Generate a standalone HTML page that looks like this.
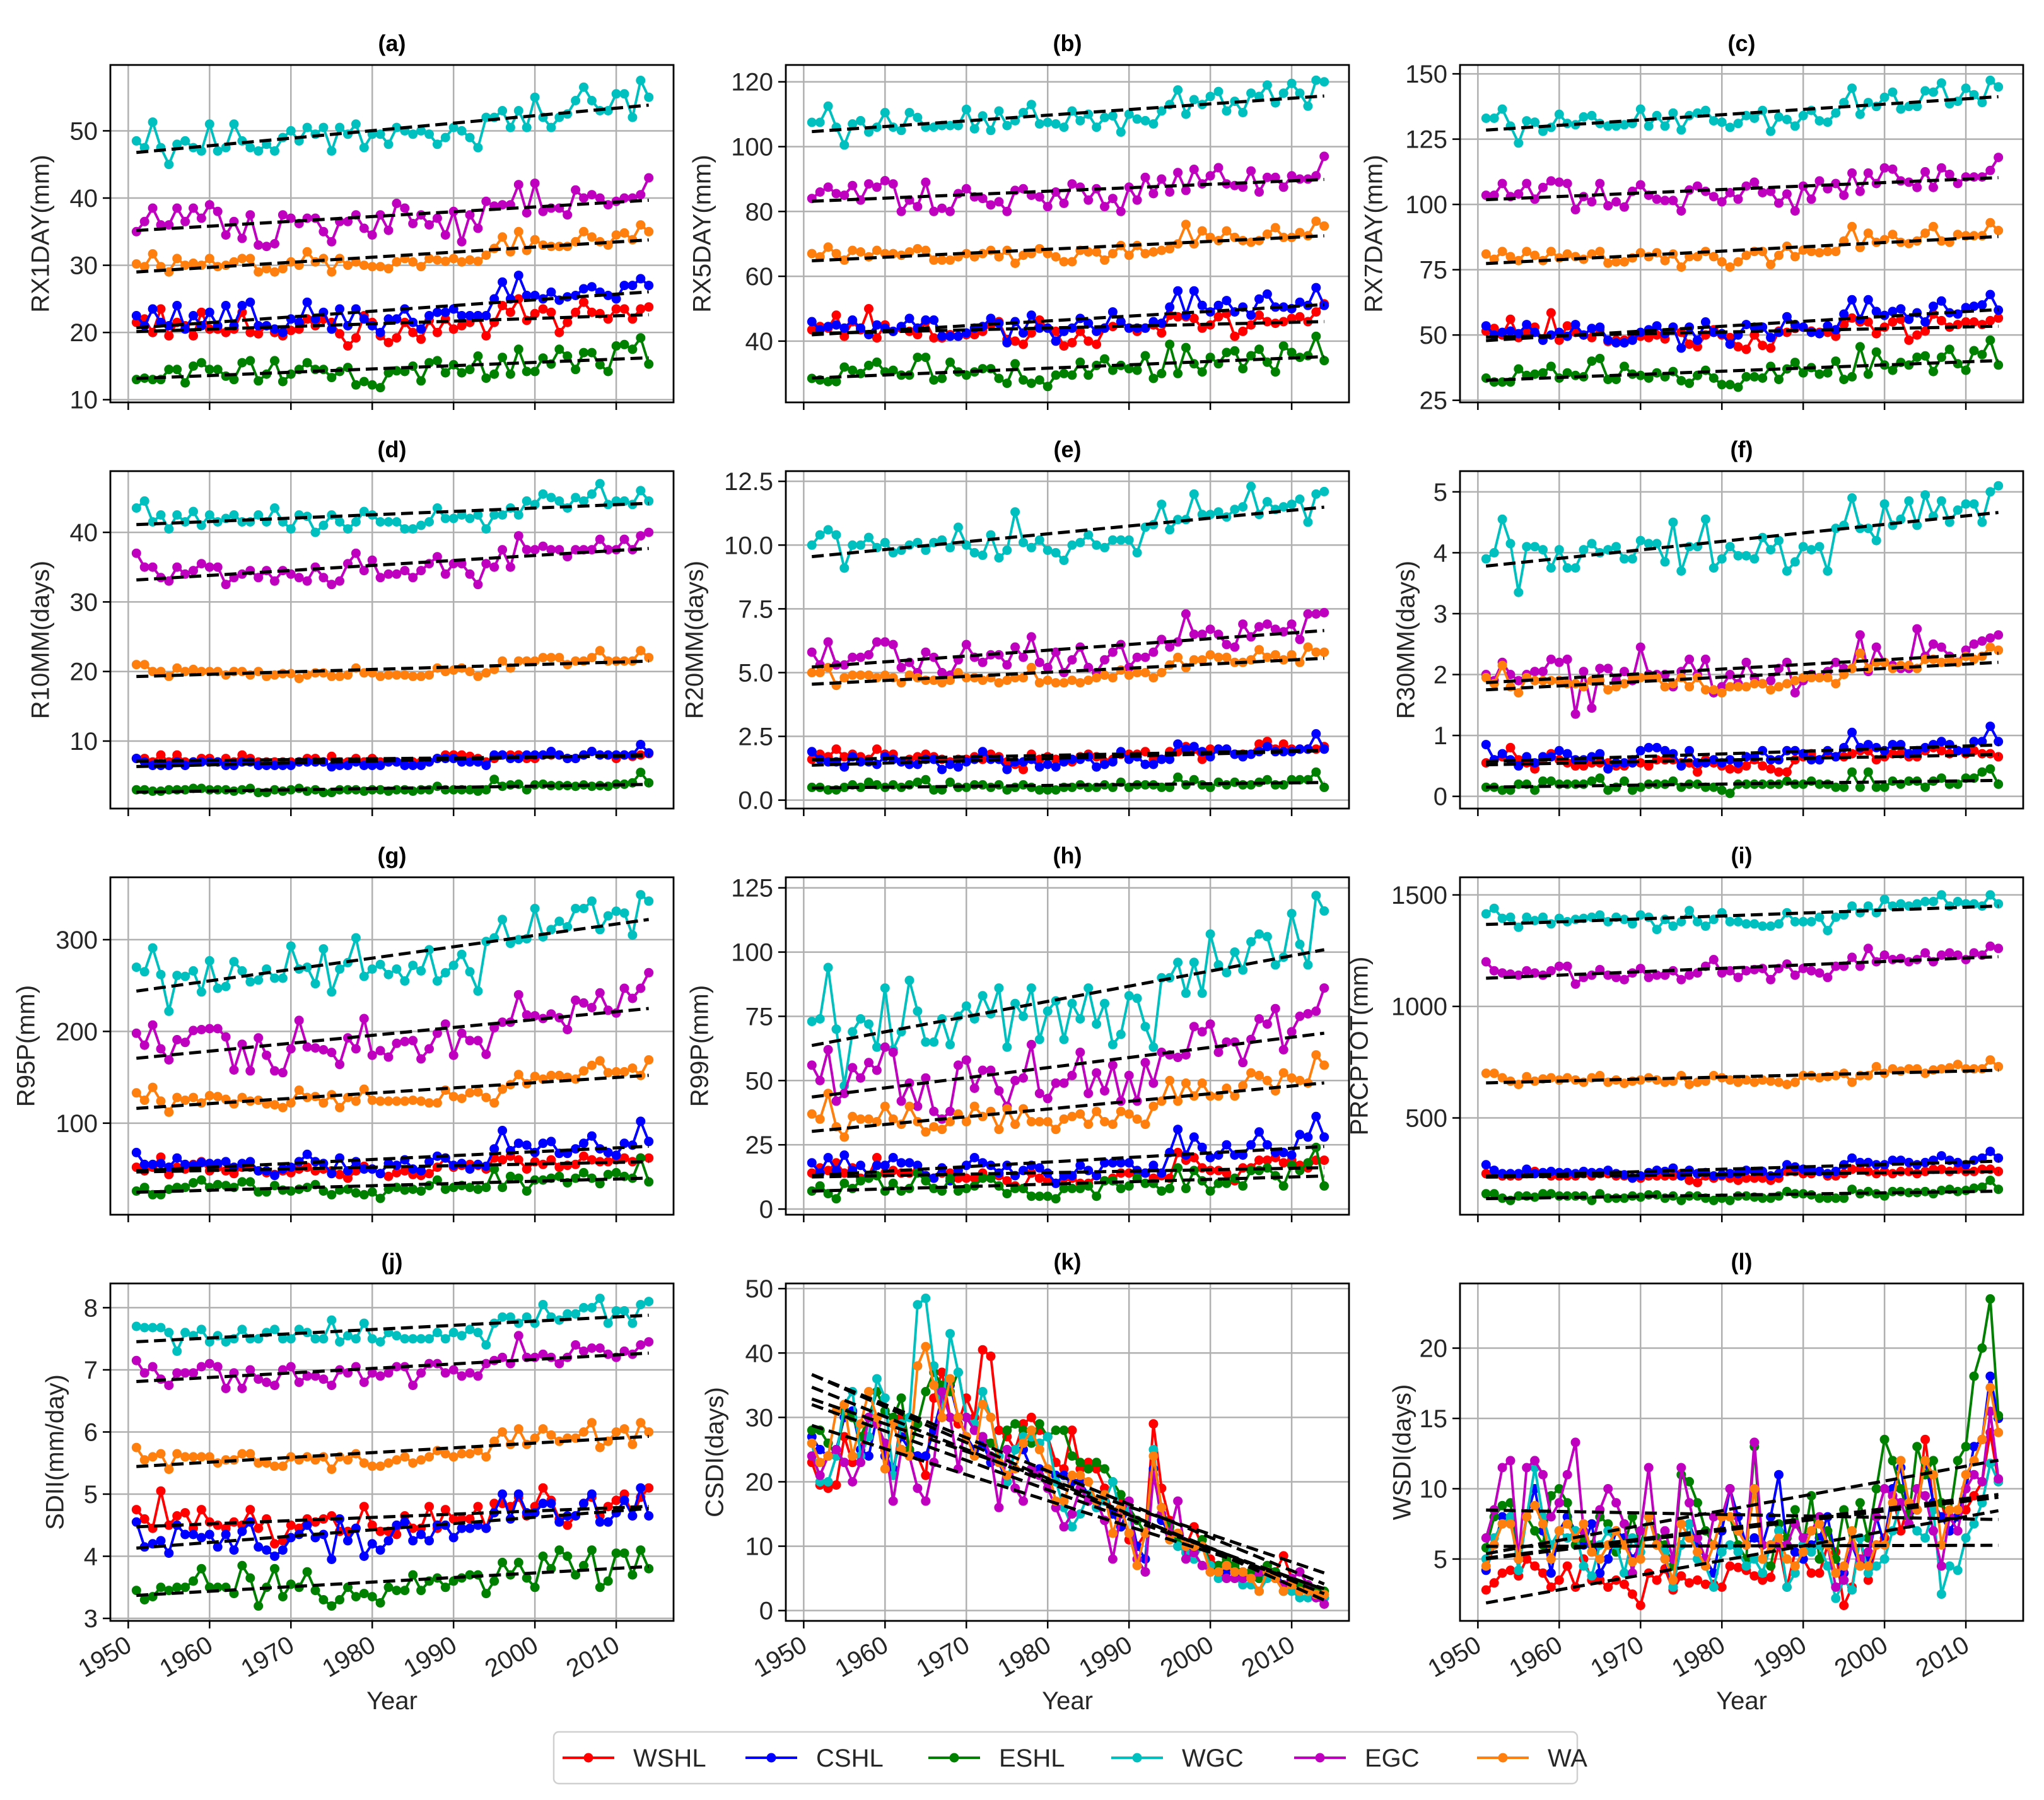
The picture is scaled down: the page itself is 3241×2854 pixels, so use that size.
<!DOCTYPE html>
<html><head><meta charset="utf-8"><title>Climate extreme indices</title>
<style>
html,body{margin:0;padding:0;background:#fff;}
svg{display:block;font-family:"Liberation Sans","DejaVu Sans",sans-serif;}
</style></head>
<body>
<svg id="fig" width="3241" height="2854" viewBox="0 0 3241 2854" xmlns="http://www.w3.org/2000/svg"></svg>
<script>
const years=[];for(let y=1951;y<=2014;y++)years.push(y);
const seriesNames=['WSHL','CSHL','ESHL','WGC','EGC','WA'];
const seriesColors={WSHL:'#ff0000',CSHL:'#0000ff',ESHL:'#008000',WGC:'#00bfbf',EGC:'#bf00bf',WA:'#ff7f0e'};
const xTickYears=[1950,1960,1970,1980,1990,2000,2010];

// (a) RX1DAY
const a_WGC=[48.5,47.5,51.3,47.5,45,48,48.5,47.5,47,51,47,47.5,51,48.5,47.5,47,48,47,49,50,48.5,50.5,49.5,50.5,47,50.5,49.5,51,47.5,49.5,49.5,48,50.5,50,49.5,50,49.5,48,49,50.5,50,49,47.5,52,52,53,50.5,53,50.5,55,52,50.5,52,52.5,54.5,56.5,54.5,53,53,55.5,55.5,52,57.5,55];
const a_EGC=[35,36.5,38.5,36,36,38.5,36.5,38.5,37,39,38,34.5,36.5,34,37.5,33,32.8,33.2,37.5,37,36.2,37,37,35,33.5,36.5,36.5,37.5,35.5,34.5,37.5,35.2,39.2,38.5,36.2,37.5,36,37,34.5,38,33.5,37.5,35.5,39.5,38.8,39,39,42,37.8,42.2,38,38.5,38.5,37.5,41.2,40,40.5,40,39,39.5,40,40,40.5,43];
const a_WA=[30.2,29.8,31.7,29.8,29,31,30,30.3,30,31,29.8,30,30.5,31,31,29,29.5,29,29.5,30.5,30,32,30.5,31,29,31,30,30.5,30,29.8,29.8,29.5,30.5,31,30.5,29.8,31,30.8,30.6,31,30.5,30.8,30.6,31.5,32.5,34.2,32,35,32.2,33.8,33,32.8,32.8,32.8,33.5,35,34.2,33.5,33,34.5,34.8,33.8,36,35];
const a_CSHL=[22.5,21,23.5,21.5,21,24,20.5,22.5,21,23,21,24,21,24,24.5,21,21,20.5,20,22,21.5,24.5,22,23,20.5,23.5,21,23.5,22,21,20,22,22,23.5,21.5,20.5,22.5,23,23,23.5,22.5,22.5,22.5,22.5,25,27.5,25,28.5,25.5,25.5,25,26,24.8,25.3,25.5,26.5,26.8,26,25.5,25,27,27,28,27];
const a_WSHL=[21.5,22,20,23.5,19.5,21.5,21,19.5,23,20.5,20.5,20,20.5,23,20,19.8,21,20,19.5,20.3,20.5,22,21,22,21.5,19.8,18,19.2,22.5,21.5,19.5,18.5,19.2,21.5,20,19,21.8,20,22,20.5,21,21.5,22.5,19.5,21.5,24,23,25,21.8,22.8,23.5,23,20,21.5,23,24.5,23,22.8,22,23.5,23.5,22,23.5,23.8];
const a_ESHL=[13,13.2,13,13,14.5,14.5,12.5,15,15.5,14.5,14.5,13.5,13,15.5,15.8,12.8,13.8,15.8,12.7,13.8,14.5,15.5,14.5,14.5,13.3,14.2,14.8,12.2,12.7,12.2,11.8,14,14.3,14.2,15,12.8,15.5,15.8,14,15.2,14,14.5,16.5,13.2,13.8,16.3,13.8,17.5,14.2,14.2,16.2,15.3,17.5,16.5,14.5,17,17,15.2,14.2,18,18.2,17.5,19.2,15.3];
const a_ticks=[10,20,30,40,50];

// (b) RX5DAY
const b_WGC=[107.5,107.5,112.5,106,100.5,107,108,104.5,106,110.5,106,105,110.5,109,106,106,106.5,106.5,106.5,111.5,105.5,109.5,105,111,106.5,108,110.5,113,107,107.5,107,106,111,108,110,106,109,109.5,104.5,110,108.5,108,107,111,113,117.5,110,114.5,113,115.5,117,111,114,110.5,116.5,115.5,119,113.5,116.5,119.5,116.5,112.5,120.5,120];
const b_EGC=[84,86,87.5,85.5,85,88,83.5,88.5,87.5,89.5,88.5,80,83.5,81.5,89,80,81,80,85.5,87,84.5,84,82,83,80,86.5,87,85,84.5,81.5,86,82.5,88.5,87.5,83.5,87,81.5,84,80,87.5,83.5,90.5,85.5,90,86,92,86.5,93,88.5,91,93.5,88.5,88,87.5,92.5,86,90.5,90.5,87.5,91,90,90,91,97];
const b_WA=[67,66,69,67,65,68,67.5,66,68,67,67,66.5,67.5,68.5,68,65,65,65,66,67,66,67,68,66,68,64,66.5,67,68.5,67,66,64.5,64.5,68,67.5,67.5,65,67,69.5,66.5,69.5,67,67.5,68,68.5,70,76,70,74,72,71,74,72,71,70.5,71,73,75,72,72,73.5,72.5,77,75.5];
const b_CSHL=[46,43.5,44.5,45,44,46.5,44,42,45,44,43,44.5,47,44,46.5,46.5,41.5,41.5,41.5,42.5,44,44.5,47,45.5,39.5,46,42.5,48,44,44,40,43,44,47,45.5,43,44,49,46,44,44,44,46,45.5,50.5,55.5,48,55.5,51,49,51,52.5,49,50.5,48,53,54.5,50.5,50.5,50,52,51,56.5,51];
const b_WSHL=[43.5,44.5,44,48,41.5,46,43.5,50,41,45,43,44,43,42,46,41,41,42,41.5,42,42,43,45,46,40.5,40,39,42.5,46.5,44,43,38.5,39.5,43,40,39,44,44.5,46,44,43,44,45,42.5,48,47.5,47.5,47,44,45,47.5,48.5,41.5,43,45,48,46,45.5,46,47,47.5,46,49,51.5];
const b_ESHL=[28.5,28,27.5,27.5,32,31,30,32.5,33.5,30.5,31,29.5,29.5,35,35,28,28.5,33.5,30.5,29.5,30.5,31.5,31.5,28.5,27,33,28,27,28,26,29.5,30,29.5,33.5,29.5,32.5,34.5,31,32.5,31.5,31,35.5,28.5,30,39,30,38,33,30.5,35,33,36.5,37,31.5,35.5,37.5,33.5,30.5,38.5,36.5,35,35.5,41.5,34];
const b_ticks=[40,60,80,100,120];

// (c) RX7DAY
const c_WGC=[133,133,136.5,130,123.5,132,131.5,128,129.5,134.5,131,130.5,133.5,134,131,130,130,130.5,131,136.5,130,134,130,135,128.5,134,135,136,132,131.5,129.5,131,134,133,136,128,133.5,132.5,130,134,136,132,131.5,135,139,144.5,134.5,139,137.5,141,143,136.5,137.5,137.5,143.5,143,146.5,138.5,139.5,144.5,142,139,147.5,145];
const c_EGC=[103.5,103.5,108,103,104,108,102,106.5,109,108.5,108,98,103,101,108,99.5,101,99,105,107.5,103.5,102,101.5,101.5,97.5,105.5,107,105,103,101,104.5,102,107,108.5,104.5,105,100.5,104,97.5,107,102,109,106,108,103.5,112,105,112,108,114,113.5,109,108.5,106.5,112.5,106.5,114,111.5,108,110.5,110.5,110.5,113,118];
const c_WA=[81,79,82,80,78.5,82,80.5,78.5,82,79.5,81,80,79,81,82,77.5,78,78,79.5,81.5,80,81.5,78.5,81,76,80,80,82,80,78,76,78,80.5,82,82,77,80.5,84,80,82.5,82,81.5,82,82,86,91.5,83.5,89,85.5,86.5,88.5,85.5,85,86,89,91.5,86,85.5,88.5,88,88,88,93,90];
const c_CSHL=[53.5,50,51,51.5,50.5,54,51,48,50,51,49.5,54,50,52.5,53,48,47,47,48,51,52,53.5,50.5,53,45,53,48,55,51,50.5,46.5,50,54,53,53,49,51,57,54,53,51,50.5,53.5,52,58,63.5,56,63.5,59,57.5,59,60,56,58.5,55,61,63,58.5,58,60.5,61,61.5,65.5,59.5];
const c_WSHL=[51.5,52.5,50,56,49,51,53,48,58.5,48,53.5,51,50,49,52,47.5,48,48,49,49.5,49,50,48.5,53,51,46.5,45.5,50,52,50,49,45.5,44.5,50,46,45,51.5,51,52.5,53,51.5,51,51,49.5,54,56.5,55,55,50.5,53,55,56,48,50,51.5,58,55.5,53,54,55,55,54,55.5,56.5];
const c_ESHL=[33.5,32,32,32,37,34.5,35,35.5,38,33.5,35.5,34.5,34,40,41,33,33,38,35,34.5,33.5,35.5,34,36,32.5,31.5,34.5,36.5,33.5,31,31,30,34,34,33.5,38,33,37,39.5,35.5,37.5,35,35.5,40,33,34,45.5,35,43.5,38.5,36.5,39.5,38.5,41.5,42,36,41.5,44.5,39,36.5,44,42.5,48,38.5];
const c_ticks=[25,50,75,100,125,150];

// (d) R10MM
const d_WGC=[43.5,44.5,41.5,42.5,40.5,42.5,41.5,43,41,42.5,41.5,42,42.5,41.5,41.5,42.5,41.5,43.5,41.5,40.5,42.5,42.3,40,41,42.5,41.5,40.5,41.5,43,42.5,41.5,41.5,41.5,40.5,40.5,41,41.5,43.5,42,42,42.5,42,42.5,40.5,42.5,42.5,43.5,42.5,44.5,44,45.5,45,44.5,43.5,45,44.5,45.5,47,44,44.5,44.5,44,46,44.5];
const d_EGC=[37,35,35,33.5,33,35,34,34.5,35.5,35,35,32.5,33.5,34,34.5,33.5,34.5,33,34.5,34,33.5,33,35,33.5,32.5,33,35.5,37,34.5,36,33.5,34,34,34.5,33.5,34.5,35.5,36.5,34,35.5,35.5,34,32.5,35.5,35,37.5,35,39.5,37.5,37.5,38,37.5,37.5,36.5,37.5,37.5,37.5,39,37.5,37.5,39,37.5,39.5,40];
const d_WA=[21,21,20,20,19.3,20.5,20,20.3,20,20,20,19.5,20,20,19.5,20,19.3,19.5,19.7,19.7,19,19.5,19.8,19.8,19.3,19.3,19.5,20.5,19.8,19.8,19.3,19.5,19.5,19.5,19.3,19.3,19.5,20.5,20,20.2,20.5,20,19.3,19.8,20.3,21.5,20.5,21.5,21.5,21.5,22,22,22,21,21.5,21.5,22,23,21.5,21.5,21.5,21.5,23,22];
const d_CSHL=[7.5,7,6.5,6.5,6.5,7,6.5,7,7,7,7,6.5,6.5,7,7,6.5,6.5,6.5,6.5,6.5,7,7,7,7,6.3,6.5,6.5,7,6.5,6.5,6.5,7,7,6.5,6.5,6.5,7,7.5,7.5,7.5,7,7,7,6.5,8,8,7.5,7.5,8,8,8,8.5,8,7.5,7.5,8,8.5,8,8,8,8,8,9.5,8.3];
const d_WSHL=[7.5,7.5,7,8,7,8,7,7,7.5,7.5,7,7.5,7,8,7.5,7,7,7,7,7,7,7.5,7.5,7,7.8,7,7,7.5,7,7.5,7,7,7,7,7,7,7,7.5,8,8,8,7.8,7.5,7,7.5,8,8,8,7.5,7.5,8,8,8,7.5,7.5,8,8.5,8,8,7.5,8,7.8,8,8.2];
const d_ESHL=[3,3,2.8,2.8,3,3,3,3.2,3.2,3,3,3,2.8,3,3.2,2.6,2.6,3,2.8,3,3.2,2.8,3,2.6,2.6,3,3,3,2.8,3,3,2.8,3,3,2.8,3,3,3.5,3,3,3,3,2.8,3,4.5,3.5,3.7,3.8,3,3.7,3.8,3.6,3.6,3.6,3.5,3.7,3.5,3.6,3.5,3.8,3.8,4,5.5,4];
const d_ticks=[10,20,30,40];

// (e) R20MM
const e_WGC=[10,10.4,10.6,10.4,9.1,10,10,10.3,9.9,10.1,9.7,9.8,10,10.1,9.8,10.1,10.2,9.9,10.7,10,9.7,9.6,10.4,9.5,9.8,11.3,10.1,9.9,10.2,9.8,9.7,9.4,10,10.1,10.4,10,9.9,10.2,10.2,10.2,9.7,10.7,10.8,11.6,10.6,11,11,12,11.2,11.2,11.3,11.1,11.4,11.5,12.3,11.2,11.7,11.4,11.5,11.6,11.8,10.9,12,12.1];
const e_EGC=[5.8,5.3,6.2,5.3,5.3,5.6,5.6,5.7,6.2,6.2,6.1,5.2,5.4,5,5.8,5.6,5,4.9,5.5,6.1,5.6,5.4,5.7,5.7,5.3,6,5.6,6.4,5.4,5.2,5.8,5,5.5,6,5.2,5,5.5,5.8,6.1,5.2,5.6,5.6,5.8,6.3,6,6.2,7.3,6.5,6.5,6.7,6.5,6.1,6,6.9,6.4,6.8,6.9,6.7,6.6,6.9,6.3,7.3,7.3,7.35];
const e_WA=[5,5,5.2,4.5,4.8,4.9,4.9,4.9,4.8,4.9,4.8,4.6,4.9,4.8,4.7,4.7,4.6,4.7,5,4.8,4.8,4.7,4.8,4.6,4.7,4.8,4.8,5.2,4.6,4.7,4.6,4.6,4.7,4.6,4.7,4.8,4.9,4.8,5.1,4.9,5,5,4.8,5,5.3,5.6,5.2,5.5,5.5,5.7,5.6,5.6,5.4,5.4,5.5,5.9,5.6,5.7,5.5,5.7,5.4,6,5.8,5.8];
const e_CSHL=[1.9,1.6,1.5,1.5,1.3,1.7,1.5,1.5,1.4,1.7,1.6,1.5,1.4,1.4,1.6,1.6,1.2,1.4,1.3,1.5,1.6,1.9,1.6,1.6,1.2,1.5,1.5,1.6,1.3,1.4,1.3,1.5,1.6,1.6,1.7,1.3,1.4,1.5,1.9,1.6,1.7,1.4,1.4,1.6,1.6,2.2,2,2.1,1.9,1.7,2,2,1.8,1.7,1.8,1.9,2.1,1.9,1.9,1.9,2,2,2.6,2];
const e_WSHL=[1.6,1.8,1.7,2,1.7,1.8,1.7,1.6,2,1.8,1.8,1.5,1.6,1.7,1.8,1.7,1.6,1.5,1.6,1.6,1.7,1.6,1.8,1.7,1.5,1.4,1.2,1.8,1.6,1.7,1.6,1.5,1.5,1.7,1.8,1.7,1.5,1.6,1.8,1.8,1.8,1.9,1.6,1.6,1.9,1.9,2.1,2,1.6,2,2,2,1.8,1.8,1.8,2.2,2.3,2,2.2,2,2,2,2,2.1];
const e_ESHL=[0.5,0.5,0.4,0.4,0.5,0.6,0.5,0.7,0.6,0.5,0.6,0.5,0.6,0.7,0.8,0.4,0.4,0.7,0.5,0.5,0.6,0.6,0.5,0.6,0.4,0.5,0.6,0.5,0.4,0.4,0.4,0.5,0.5,0.6,0.5,0.5,0.6,0.5,0.7,0.5,0.6,0.6,0.6,0.5,0.5,0.9,0.6,0.8,0.6,0.5,0.7,0.6,0.7,0.6,0.6,0.7,0.8,0.6,0.6,0.8,0.8,0.8,1.1,0.5];
const e_ticks=[0,2.5,5,7.5,10,12.5];

// (f) R30MM
const f_WGC=[3.9,4,4.55,4.15,3.35,4.1,4.1,4.05,3.75,4.05,3.75,3.75,4.05,4.15,4,4.05,4.1,3.9,3.9,4.2,4.15,4.15,3.85,4.5,3.7,4.1,4.1,4.55,3.75,3.9,4.1,3.95,3.95,3.9,4.25,4.05,4.2,3.7,3.85,4.1,4.05,4.1,3.7,4.4,4.45,4.9,4.4,4.4,4.2,4.8,4.45,4.55,4.85,4.45,4.95,4.6,4.85,4.5,4.7,4.8,4.8,4.5,5,5.1];
const f_EGC=[2,1.9,2.2,2,1.9,2,2.05,2.05,2.25,2.2,2.25,1.35,2.05,1.45,2.1,2.1,1.9,2.05,1.9,2.45,2,2,2,1.8,2.05,2.25,2,2.25,1.7,1.8,2,1.85,2.2,1.95,1.85,1.9,2.1,2.2,1.7,1.9,2,1.95,2.05,2.2,2.1,2.1,2.65,2.05,2.45,2.2,2.15,2.1,2.1,2.75,2.3,2.5,2.45,2.3,2.2,2.4,2.5,2.55,2.6,2.65];
const f_WA=[1.95,1.85,2.15,1.8,1.7,1.95,1.9,1.9,1.9,1.9,1.85,1.85,1.8,1.9,1.9,1.75,1.8,1.85,1.95,1.95,1.95,1.95,1.8,1.85,1.95,1.8,1.95,1.75,1.75,1.7,1.8,1.8,1.8,1.85,1.85,1.75,1.8,1.85,1.9,1.95,1.95,1.95,1.95,1.85,2,2.1,2.35,2.1,2.2,2.2,2.1,2.15,2.15,2.1,2.25,2.25,2.2,2.25,2.2,2.3,2.25,2.3,2.45,2.4];
const f_CSHL=[0.85,0.6,0.7,0.6,0.5,0.65,0.55,0.65,0.65,0.75,0.7,0.6,0.6,0.65,0.7,0.45,0.55,0.55,0.55,0.75,0.8,0.8,0.75,0.7,0.5,0.75,0.55,0.55,0.6,0.55,0.6,0.55,0.65,0.65,0.75,0.6,0.6,0.75,0.75,0.7,0.6,0.6,0.75,0.65,0.8,1.05,0.8,0.85,0.8,0.75,0.85,0.85,0.7,0.75,0.8,0.85,0.9,0.85,0.75,0.75,0.9,0.9,1.15,0.9];
const f_WSHL=[0.55,0.6,0.65,0.8,0.6,0.55,0.45,0.6,0.7,0.6,0.55,0.5,0.5,0.55,0.55,0.55,0.5,0.5,0.6,0.55,0.5,0.6,0.6,0.6,0.55,0.55,0.4,0.6,0.55,0.5,0.45,0.45,0.5,0.6,0.5,0.45,0.4,0.4,0.6,0.65,0.7,0.6,0.7,0.65,0.65,0.7,0.75,0.75,0.6,0.65,0.7,0.7,0.65,0.65,0.75,0.8,0.75,0.7,0.75,0.7,0.75,0.7,0.7,0.65];
const f_ESHL=[0.15,0.15,0.1,0.1,0.2,0.2,0.1,0.25,0.25,0.2,0.2,0.2,0.2,0.25,0.3,0.1,0.15,0.25,0.1,0.15,0.2,0.2,0.2,0.25,0.15,0.2,0.2,0.15,0.15,0.1,0.05,0.2,0.2,0.2,0.2,0.2,0.2,0.25,0.2,0.2,0.25,0.2,0.2,0.15,0.15,0.4,0.15,0.4,0.15,0.15,0.25,0.2,0.25,0.25,0.15,0.25,0.3,0.2,0.2,0.3,0.3,0.4,0.45,0.2];
const f_ticks=[0,1,2,3,4,5];

// (g) R95P
const g_WGC=[270,265,291,262,222,261,260,266,243,277,247,249,276,266,254,256,268,258,258,293,268,270,252,290,243,268,275,302,260,268,273,262,268,255,272,266,289,255,264,272,284,265,244,298,302,322,296,300,301,334,303,311,320,314,334,334,342,311,326,331,329,305,349,342];
const g_EGC=[198,185,207,181,169,191,188,201,202,203,203,194,158,186,157,193,174,157,155,181,212,183,182,180,177,164,193,181,214,174,179,172,187,189,190,170,181,198,208,174,198,190,190,175,204,210,210,240,218,217,214,219,215,202,234,231,226,242,223,220,247,236,247,264];
const g_WA=[133,125,139,124,112,128,125,128,122,130,129,126,121,128,124,125,121,120,117,122,136,128,129,122,131,117,128,124,137,125,124,124,124,124,125,124,122,122,136,129,127,133,134,128,122,137,142,153,143,151,148,152,152,150,148,157,163,168,155,156,156,160,152,177];
g_WA.push(169); g_WA.splice(63,1);
const g_CSHL=[68,55,55,56,52,62,55,54,57,56,56,58,52,56,58,48,48,43,50,52,58,66,58,56,45,62,48,58,50,50,45,56,54,60,50,48,58,64,62,54,56,50,55,53,72,92,70,78,76,68,78,80,67,67,72,78,86,72,68,65,78,76,102,80];
const g_WSHL=[52,48,52,63,44,52,50,55,58,48,52,48,45,52,52,48,46,44,48,46,50,52,48,50,48,44,40,48,53,50,45,42,46,48,44,43,45,52,62,52,54,55,54,50,62,60,64,60,50,58,55,60,52,54,55,64,60,58,58,60,62,58,62,62];
const g_ESHL=[26,30,22,22,28,30,30,35,38,30,33,32,30,36,36,25,25,32,27,26,28,30,33,26,22,27,28,24,22,25,18,28,30,27,28,26,32,38,28,30,32,30,28,30,50,30,42,40,26,38,38,40,42,35,40,46,40,34,44,46,42,40,62,36];
const g_ticks=[100,200,300];

// (h) R99P
const h_WGC=[73,74,94,70,48,69,74,72,63,86,62,69,89,77,65,65,74,64,75,79,74,83,76,86,63,80,75,86,66,77,81,66,80,74,86,72,80,64,68,83,82,71,63,90,90,96,84,96,84,107,95,92,100,93,104,107,106,95,98,115,103,95,122,116];
const h_EGC=[56,50,62,42,45,55,51,57,54,63,61,42,49,40,51,38,35,38,56,58,47,54,54,46,40,50,51,64,45,43,49,49,52,61,45,53,46,56,42,52,42,57,49,61,60,59,60,71,69,72,61,65,65,57,66,74,72,78,62,69,75,76,77,86];
const h_WA=[37,35,45,32,28,36,35,35,34,40,35,33,40,34,30,32,31,34,37,34,40,36,38,31,39,33,39,34,34,34,31,35,36,37,33,38,34,33,38,37,35,33,40,42,50,42,49,44,49,44,44,47,44,48,53,52,50,46,53,51,50,49,60,56];
const h_CSHL=[18,14,20,15,21,15,17,13,17,17,20,18,18,17,13,12,16,11,15,17,20,18,17,14,17,13,15,17,16,14,10,13,13,17,15,13,18,18,18,18,15,14,17,14,22,31,21,28,24,20,21,25,21,21,25,30,25,22,22,21,29,28,36,28];
const h_WSHL=[14,16,15,18,14,16,12,13,20,14,15,14,14,15,13,12,14,14,12,12,12,14,12,13,11,9,8,14,12,11,10,12,12,10,10,13,11,12,14,14,13,14,12,13,12,22,19,20,16,15,15,14,11,16,16,19,19,20,18,19,17,16,19,19];
const h_ESHL=[7,9,6,4,10,8,11,12,13,7,10,7,8,14,11,8,7,12,7,8,9,12,12,9,6,8,8,5,5,5,4,8,8,8,9,5,11,11,8,9,12,10,10,7,8,16,8,15,11,7,10,10,12,9,15,15,16,13,9,17,15,18,24,9];
const h_ticks=[0,25,50,75,100,125];

// (i) PRCPTOT
const i_WGC=[1415,1440,1395,1400,1355,1400,1385,1400,1370,1395,1380,1390,1395,1400,1410,1380,1400,1390,1370,1410,1400,1345,1390,1360,1380,1430,1380,1360,1390,1420,1380,1380,1370,1370,1360,1360,1370,1420,1380,1380,1380,1400,1340,1400,1410,1450,1420,1450,1420,1480,1450,1460,1450,1460,1470,1470,1500,1450,1470,1460,1460,1450,1500,1460];
const i_EGC=[1200,1160,1150,1145,1140,1160,1150,1140,1160,1180,1180,1100,1130,1140,1165,1140,1130,1120,1150,1170,1130,1140,1140,1160,1120,1140,1150,1180,1210,1150,1160,1130,1160,1165,1170,1120,1170,1190,1140,1170,1160,1150,1130,1180,1180,1220,1180,1260,1200,1230,1210,1215,1200,1210,1240,1200,1230,1240,1230,1210,1240,1230,1270,1260];
const i_WA=[700,700,680,665,650,685,665,675,680,670,680,670,660,680,690,660,670,655,665,670,680,670,660,665,690,650,660,665,690,680,670,660,670,660,670,665,660,650,660,690,690,680,685,690,700,660,690,690,730,700,720,710,720,720,700,715,720,725,740,720,720,720,760,730];
const i_CSHL=[290,265,250,250,250,270,250,255,260,255,255,250,260,255,255,265,250,245,230,240,255,265,260,275,240,265,250,255,240,245,250,250,265,260,260,240,250,290,280,270,265,260,250,260,290,320,300,300,290,290,310,310,300,290,300,310,330,310,300,290,310,320,350,320];
const i_WSHL=[250,250,240,240,240,250,260,250,240,240,240,240,250,240,250,250,240,240,230,230,240,240,240,240,250,220,210,240,230,240,230,220,230,230,230,220,230,260,260,250,250,260,240,240,250,270,270,260,250,260,250,260,260,250,260,270,270,260,270,260,260,270,270,260];
const i_ESHL=[160,160,140,130,150,150,145,160,160,150,150,150,150,130,160,140,140,140,150,145,155,155,140,150,130,150,150,140,130,140,130,150,150,145,140,140,150,170,160,160,155,140,140,140,140,180,160,170,160,150,170,170,165,165,170,160,175,180,170,175,185,190,220,180];
const i_ticks=[500,1000,1500];

// (j) SDII
const j_WGC=[7.7,7.68,7.68,7.68,7.6,7.3,7.6,7.55,7.65,7.45,7.55,7.45,7.5,7.65,7.5,7.5,7.6,7.65,7.5,7.5,7.65,7.6,7.5,7.5,7.8,7.45,7.55,7.5,7.75,7.5,7.45,7.6,7.55,7.5,7.5,7.5,7.5,7.6,7.5,7.6,7.55,7.65,7.6,7.4,7.75,7.85,7.85,7.75,7.85,7.75,8.05,7.85,7.8,7.9,7.9,8,8,8.15,7.75,7.95,7.95,7.75,8.05,8.1];
const j_EGC=[7.15,6.95,7.05,6.85,6.75,6.95,6.95,6.95,7.05,7.1,7.05,6.7,6.95,6.7,7,6.85,6.8,6.75,7,7.05,6.8,6.9,6.9,6.85,6.75,7,6.95,7.05,6.8,6.95,6.9,6.95,7.05,7.05,6.75,6.95,7.1,7.1,6.95,7,6.9,6.95,6.9,7.1,7.15,7.2,7.1,7.55,7.2,7.2,7.25,7.2,7.1,7.2,7.4,7.3,7.35,7.35,7.25,7.2,7.3,7.25,7.4,7.45];
const j_WA=[5.75,5.55,5.6,5.65,5.4,5.65,5.6,5.6,5.6,5.6,5.5,5.55,5.55,5.65,5.65,5.5,5.5,5.45,5.45,5.6,5.55,5.6,5.55,5.6,5.4,5.6,5.55,5.65,5.5,5.45,5.45,5.5,5.55,5.6,5.5,5.55,5.6,5.7,5.65,5.6,5.65,5.65,5.7,5.6,5.85,6,5.8,6.05,5.8,5.9,6.05,5.95,5.85,5.9,5.9,6,6.15,5.75,5.85,6,6.05,5.8,6.15,6];
const j_CSHL=[4.55,4.15,4.2,4.25,4.05,4.5,4.35,4.35,4.3,4.35,4.15,4.35,4.1,4.4,4.55,4.15,4.1,4,4.1,4.3,4.35,4.5,4.3,4.35,3.95,4.6,4.25,4.45,4,4.2,4.1,4.25,4.5,4.55,4.25,4.35,4.25,4.5,4.5,4.3,4.45,4.45,4.5,4.45,4.7,5,4.6,5,4.7,4.7,4.85,4.85,4.55,4.65,4.65,4.85,5,4.55,4.55,4.7,4.9,4.65,5.1,4.65];
const j_WSHL=[4.75,4.6,4.45,5.05,4.5,4.65,4.7,4.45,4.75,4.55,4.5,4.45,4.55,4.5,4.75,4.45,4.6,4.2,4.25,4.5,4.45,4.6,4.55,4.6,4.65,4.4,4.4,4.45,4.8,4.5,4.4,4.4,4.35,4.65,4.45,4.45,4.8,4.45,4.75,4.6,4.6,4.6,4.8,4.45,4.85,4.85,4.8,4.95,4.65,4.8,5.1,4.9,4.6,4.5,4.65,4.85,4.95,4.65,4.8,4.9,5,4.65,4.95,5.1];
const j_ESHL=[3.45,3.3,3.35,3.5,3.45,3.5,3.5,3.6,3.8,3.5,3.5,3.5,3.4,3.85,3.65,3.2,3.5,3.8,3.35,3.55,3.5,3.75,3.45,3.3,3.2,3.3,3.5,3.35,3.4,3.35,3.25,3.5,3.45,3.45,3.7,3.45,3.6,3.65,3.5,3.6,3.65,3.7,3.7,3.4,3.6,3.9,3.7,3.9,3.65,3.5,4,3.8,4.1,4,3.7,3.85,4.1,3.5,3.6,4.05,4.05,3.7,4.1,3.8];
const j_ticks=[3,4,5,6,7,8];

// (k) CSDI
const k_WSHL=[23,19.5,19,19.5,27,23,25,30,29,25,21,30,25,24,21,33,37,30,29,33,30,40.5,39.5,28,27,25,29,30,28,27,23,22,28,22,23,22,19,15,17,11,10,12,29,19,14,10,10,13,10,8,7,8,6,5,6,5,6,6,8.5,5,4,3,3,2];
const k_CSHL=[27,25,24,25,30,31,25,24,30,24,22,27,25,24,24,28,33,35,30,27,25,26,23,23,20,25,25,22,22,22,21,21,20,20,18,16,17,15,13,16,10,8,22,14,12,11,10,9,10,7,6,6,6,5,5,5,6,6,4,4,4,3,3,2];
const k_ESHL=[28,28,26,24,31,30,27,30,34,31,30,33,25,29,34,37,35,34,37,30,28,27,26,24,28,29,28,26,29,27,28,28,24,23,22,23,22,20,18,16,14,12,21,16,13,11,10,8,11,7,7,8,7,6,6,5,7,6,3,4,4,4,3,3];
const k_WGC=[26,20,20,24,32,34,24,27,36,33,21,29,30,47.5,48.5,38,30,43,37,30,29,34,30,24,20,25,27,27,26,27,20,16,13,15,18,16,17,20,15,16,8,6,25,15,12,10,9,8,10,7,5,5,5,4,4,3,5,5,3,3,2,2,2,2];
const k_EGC=[24,21,24,25,23,20,23,30,29,26,17,25,24,19,17,23,34,30,22,30,28,27,24,16,25,19,17,22,21,19,16,13,15,19,17,17,14,8,15,17,8,6,21,15,12,17,8,9,7,6,6,5,5,5,5,6,6,5,4,5,6,4,2,1];
const k_WA=[26,23,24,31,32,24,29,34,30,22,29,25,24,38,41,35,30,36,30,27,24,32,30,23,21,22,26,28,25,22,17,17,21,21,20,17,18,12,16,12,7,12,24,16,11,12,10,10,10,6,6,7,6,6,5,3,6,5,3,4,3,3,2.5,2.5];
const k_ticks=[0,10,20,30,40,50];

// (l) WSDI
const l_WSHL=[2.8,3.3,4,4.2,3.8,5,4.5,4,3,3.5,4.5,3,5,3.5,3.5,3,3.5,3.2,2.5,1.7,4,3.5,4.3,2.8,3.8,3.3,3.5,3.2,3.2,3,4.5,4.4,4.2,3.8,3.5,3.7,6,3,5.5,5,4,4,6,5.5,1.7,3,6.5,3.5,6,6.5,9.5,7,9,8.5,13.5,9,9,7,8,8.5,9.5,10.5,14,10.5];
const l_CSHL=[4.2,6,8,7.8,5,8,10,7,4,7,8,7,6,7.5,4,5,7,6.5,5,6,8,6,5,3,6,7.5,6,5,4,7,10,8,6,6.5,6,8,11,6,5.5,5,6,6.5,8,5,4,6,4.5,5,8,6,10,11.5,8,8.5,12,9,8,7,8,10,13,13.5,18,15];
const l_ESHL=[5.8,8,8.8,9,5,8,7,6,9.5,10,9,6,6.5,6,8,7.5,5.5,6,8,6,8,6.5,6,4.5,11,10.5,9,7,6,8,8,6,5,13,5,4.5,7.5,6.5,8.5,6,9.5,5,7,5,8.5,6,9,6.5,10,13.5,12,10,8,13,11,12,9,8,12,13,18,20,23.5,15.2];
const l_WGC=[5,6.5,7.5,8,4.2,8,11.5,8,6,7,6.5,7,4.5,3.8,6,7,6,4,6.5,5.5,8,6,5.5,3,6,7.5,5,4.5,3,5.5,6,5.5,4.5,5,4,6,7,3,4,6,5.5,6,4.5,2.2,3.5,2.8,6.5,4,4.5,5,7,9,7.5,7,6.5,8.5,2.5,4.5,4.2,6.5,7.5,9,11.8,10.5];
const l_EGC=[6.5,8.5,11.5,12,5,11.5,12,11,8,9,11,13.3,7,5.5,8.5,10,9,7.5,4,7,11.5,6,7,5,11.5,9,6.5,5,8,8,10,7,6,13.3,6,6,6,6,7.5,6.5,7,8,6,3,3.5,6,5,5.5,8,10,9.5,9,7.5,10,9.5,7,4.5,8,7,10,11,10.5,15.5,10.7];
const l_WA=[4.5,6,7.5,7.5,5,8,8.8,7.5,5,7,7.5,6.5,7.5,5.5,5,6,7,6,4.8,5,8,6,5,3.5,7.5,6.5,5.5,4.5,6,8,8,7,6,10,5,6,6.5,5,4.5,5.5,7,7.5,6,4,4.5,7,4.5,4.5,6,6,9,12,9,8.5,12,11,6,8.5,8.5,11,12,13.5,17.2,14];
const l_ticks=[5,10,15,20];

const panels=[
 {id:'a',title:'(a)',ylabel:'RX1DAY(mm)',col:0,row:0,ylim:[9.6,59.8],ticks:a_ticks,dec:0,ylx:67,d:{WSHL:a_WSHL,CSHL:a_CSHL,ESHL:a_ESHL,WGC:a_WGC,EGC:a_EGC,WA:a_WA}},
 {id:'b',title:'(b)',ylabel:'RX5DAY(mm)',col:1,row:0,ylim:[21.1,125.2],ticks:b_ticks,dec:0,ylx:1116,d:{WSHL:b_WSHL,CSHL:b_CSHL,ESHL:b_ESHL,WGC:b_WGC,EGC:b_EGC,WA:b_WA}},
 {id:'c',title:'(c)',ylabel:'RX7DAY(mm)',col:2,row:0,ylim:[24.2,153.4],ticks:c_ticks,dec:0,ylx:2181,d:{WSHL:c_WSHL,CSHL:c_CSHL,ESHL:c_ESHL,WGC:c_WGC,EGC:c_EGC,WA:c_WA}},
 {id:'d',title:'(d)',ylabel:'R10MM(days)',col:0,row:1,ylim:[0.3,48.8],ticks:d_ticks,dec:0,ylx:67,d:{WSHL:d_WSHL,CSHL:d_CSHL,ESHL:d_ESHL,WGC:d_WGC,EGC:d_EGC,WA:d_WA}},
 {id:'e',title:'(e)',ylabel:'R20MM(days)',col:1,row:1,ylim:[-0.33,12.9],ticks:e_ticks,dec:1,ylx:1104,d:{WSHL:e_WSHL,CSHL:e_CSHL,ESHL:e_ESHL,WGC:e_WGC,EGC:e_EGC,WA:e_WA}},
 {id:'f',title:'(f)',ylabel:'R30MM(days)',col:2,row:1,ylim:[-0.2,5.34],ticks:f_ticks,dec:0,ylx:2232,d:{WSHL:f_WSHL,CSHL:f_CSHL,ESHL:f_ESHL,WGC:f_WGC,EGC:f_EGC,WA:f_WA}},
 {id:'g',title:'(g)',ylabel:'R95P(mm)',col:0,row:2,ylim:[0.2,368],ticks:g_ticks,dec:0,ylx:44,d:{WSHL:g_WSHL,CSHL:g_CSHL,ESHL:g_ESHL,WGC:g_WGC,EGC:g_EGC,WA:g_WA}},
 {id:'h',title:'(h)',ylabel:'R99P(mm)',col:1,row:2,ylim:[-2.2,129.1],ticks:h_ticks,dec:0,ylx:1112,d:{WSHL:h_WSHL,CSHL:h_CSHL,ESHL:h_ESHL,WGC:h_WGC,EGC:h_EGC,WA:h_WA}},
 {id:'i',title:'(i)',ylabel:'PRCPTOT(mm)',col:2,row:2,ylim:[66,1579],ticks:i_ticks,dec:0,ylx:2158,d:{WSHL:i_WSHL,CSHL:i_CSHL,ESHL:i_ESHL,WGC:i_WGC,EGC:i_EGC,WA:i_WA}},
 {id:'j',title:'(j)',ylabel:'SDII(mm/day)',col:0,row:3,ylim:[2.96,8.39],ticks:j_ticks,dec:0,ylx:90,d:{WSHL:j_WSHL,CSHL:j_CSHL,ESHL:j_ESHL,WGC:j_WGC,EGC:j_EGC,WA:j_WA}},
 {id:'k',title:'(k)',ylabel:'CSDI(days)',col:1,row:3,ylim:[-1.6,50.8],ticks:k_ticks,dec:0,ylx:1136,d:{WSHL:k_WSHL,CSHL:k_CSHL,ESHL:k_ESHL,WGC:k_WGC,EGC:k_EGC,WA:k_WA}},
 {id:'l',title:'(l)',ylabel:'WSDI(days)',col:2,row:3,ylim:[0.6,24.6],ticks:l_ticks,dec:0,ylx:2226,d:{WSHL:l_WSHL,CSHL:l_CSHL,ESHL:l_ESHL,WGC:l_WGC,EGC:l_EGC,WA:l_WA}}
];

const NS='http://www.w3.org/2000/svg';
const svg=document.getElementById('fig');
const colLeft=[175,1246,2315], rowTop=[103,747,1391,2035], AW=893, AH=535;
const XMIN=1947.8, XMAX=2017.05;
function mk(tag,attrs,parent){const e=document.createElementNS(NS,tag);for(const k in attrs)e.setAttribute(k,attrs[k]);(parent||svg).appendChild(e);return e;}
function fit(xs,ys){const n=xs.length;let sx=0,sy=0,sxx=0,sxy=0;for(let i=0;i<n;i++){sx+=xs[i];sy+=ys[i];sxx+=xs[i]*xs[i];sxy+=xs[i]*ys[i];}const b=(n*sxy-sx*sy)/(n*sxx-sx*sx);return {b:b,a:(sy-b*sx)/n};}

mk('rect',{x:0,y:0,width:3241,height:2854,fill:'#ffffff'});

panels.forEach(p=>{
  const L=colLeft[p.col],T=rowTop[p.row];
  const xs=v=>L+(v-XMIN)/(XMAX-XMIN)*AW;
  const ys=v=>T+AH-(v-p.ylim[0])/(p.ylim[1]-p.ylim[0])*AH;
  const g=mk('g',{});
  
  
  const clipId='clip'+p.id;
  const cp=mk('clipPath',{id:clipId},g);mk('rect',{x:L,y:T,width:AW,height:AH},cp);
  xTickYears.forEach(yr=>{
    const gl=mk('line',{x1:xs(yr),x2:xs(yr),y1:T,y2:T+AH,stroke:'#b0b0b0','stroke-width':2.5},g);
    
    
    mk('line',{x1:xs(yr),x2:xs(yr),y1:T+AH,y2:T+AH+12,stroke:'#000','stroke-width':2.5},g);
  });
  p.ticks.forEach(t=>{
    const yy=ys(t);
    const gl=mk('line',{x1:L,x2:L+AW,y1:yy,y2:yy,stroke:'#b0b0b0','stroke-width':2.5},g);
    
    
    mk('line',{x1:L-12,x2:L,y1:yy,y2:yy,stroke:'#000','stroke-width':2.5},g);
    const tl=mk('text',{x:L-20,y:yy+14,'text-anchor':'end','font-size':40,fill:'#262626'},g);
    tl.textContent=p.dec?t.toFixed(p.dec):String(t);
    
    
  });
  const dg=mk('g',{'clip-path':'url(#'+clipId+')'},g);
  seriesNames.forEach(s=>{
    const vals=p.d[s];const col=seriesColors[s];
    const pts=vals.map((v,i)=>xs(years[i]).toFixed(1)+','+ys(v).toFixed(1)).join(' ');
    const pl=mk('polyline',{points:pts,fill:'none',stroke:col,'stroke-width':4,'stroke-linejoin':'round'},dg);
    
    
    vals.forEach((v,i)=>{
      const c=mk('circle',{cx:xs(years[i]).toFixed(1),cy:ys(v).toFixed(1),r:7.5,fill:col},dg);
      
      
    });
  });
  seriesNames.forEach(s=>{
    const f=fit(years,p.d[s]);
    const x0=years[0],x1=years[years.length-1];
    const tr=mk('line',{x1:xs(x0),y1:ys(f.a+f.b*x0),x2:xs(x1),y2:ys(f.a+f.b*x1),stroke:'#000','stroke-width':5,'stroke-dasharray':'19,9'},dg);
    
    
  });
  const fr=mk('rect',{x:L,y:T,width:AW,height:AH,fill:'none',stroke:'#000','stroke-width':2.8},g);
  
  
  const ti=mk('text',{x:L+AW/2,y:T-22,'text-anchor':'middle','font-size':36,'font-weight':'bold',fill:'#000'},g);
  ti.textContent=p.title;
  
  
  const yl=mk('text',{x:p.ylx,y:T+AH/2,'text-anchor':'middle','font-size':40,fill:'#262626',transform:'rotate(-90 '+p.ylx+' '+(T+AH/2)+')','dominant-baseline':'middle'},g);
  yl.textContent=p.ylabel;
  
  
  if(p.row===3){
    xTickYears.forEach(yr=>{
      const tx=xs(yr)+8, ty=T+AH+46;
      const xl=mk('text',{x:tx,y:ty,'text-anchor':'end','font-size':40,fill:'#262626',transform:'rotate(-30 '+tx+' '+ty+')'},g);
      xl.textContent=String(yr);
      
      
    });
    const xt=mk('text',{x:L+AW/2,y:T+AH+140,'text-anchor':'middle','font-size':40,fill:'#262626'},g);
    xt.textContent='Year';
    
    
  }
});

const lg=mk('g',{});


mk('rect',{x:878,y:2746,width:1623,height:82,rx:8,fill:'#fff',stroke:'#d0d0d0','stroke-width':2.5},lg);
seriesNames.forEach((s,i)=>{
  const x0=892+290*i, yc=2787;
  const eg=mk('g',{},lg);
  
  
  mk('line',{x1:x0,x2:x0+82,y1:yc,y2:yc,stroke:seriesColors[s],'stroke-width':4},eg);
  mk('circle',{cx:x0+41,cy:yc,r:7.5,fill:seriesColors[s]},eg);
  const t=mk('text',{x:x0+112,y:yc+14,'font-size':40,fill:'#262626'},eg);
  t.textContent=s;
});
</script>
</body></html>
